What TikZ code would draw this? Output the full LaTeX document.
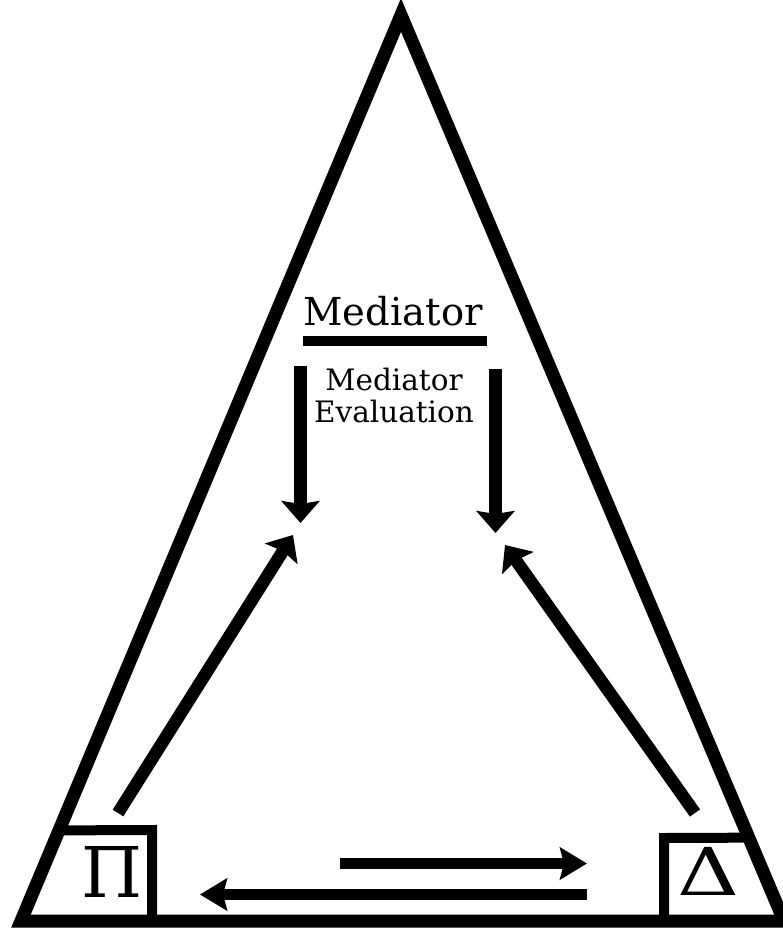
\documentclass[tikz,border=0pt]{standalone}
\usepackage{fontspec}
\setmainfont{DejaVu Serif}
\usetikzlibrary{arrows.meta,calc}

\begin{document}
\begin{tikzpicture}[x=1pt, y=-1pt, line join=miter,
    bigarrow/.style={line width=12.5pt, -{Stealth[length=22pt, width=38pt, inset=3pt]}},
    flatarrow/.style={line width=11pt, -{Stealth[length=27pt, width=32pt, inset=4pt]}}]
    % Window of the picture
    \useasboundingbox (0,0) rectangle (782,929);

    % Corners of the big triangle
    \coordinate (apex) at (401,15);
    \coordinate (lcorner) at (21,921);
    \coordinate (rcorner) at (784,921);
    \draw[line width=13pt] (apex) -- (rcorner) -- (lcorner) -- cycle;

    % Boxes in the two lower corners
    \coordinate (pitop) at ($(lcorner)!0.1!(apex)$);
    \coordinate (deltatop) at ($(rcorner)!0.092!(apex)$);
    \draw[line width=10pt] (pitop) -- (152,830) -- (152,921);
    \draw[line width=10pt] (deltatop) -- (664,838) -- (664,921);
    \node[font=\fontsize{70}{70}\selectfont] (pi) at (112,872) {Π};
    \node[font=\fontsize{66}{66}\selectfont, xscale=1.3] (delta) at (708,871) {Δ};

    % Mediator and its evaluation
    \node[anchor=base, font=\fontsize{38.5}{38.5}\selectfont] (med) at (393,325) {Mediator};
    \draw[line width=10pt] (303,341) -- (487,341);
    \node[align=center, anchor=base, font=\fontsize{29.5}{32}\selectfont] (eval) at (394,422)
        {Mediator\\Evaluation};

    % Ends of the arrows
    \coordinate (ltop) at (300.5,366);
    \coordinate (lmid) at (300.5,523);
    \coordinate (rtop) at (495.5,369);
    \coordinate (rmid) at (495.5,533);
    \coordinate (lfoot) at (118,813);
    \coordinate (lhead) at (293,535);
    \coordinate (rfoot) at (695,813);
    \coordinate (rhead) at (505,545);
    \draw[bigarrow] (ltop) -- (lmid);
    \draw[bigarrow] (rtop) -- (rmid);
    \draw[bigarrow] (lfoot) -- (lhead);
    \draw[bigarrow] (rfoot) -- (rhead);

    % Exchange between the corners
    \coordinate (upstart) at (340,863.5);
    \coordinate (upend) at (587,863.5);
    \coordinate (lowstart) at (587,894.5);
    \coordinate (lowend) at (200,894.5);
    \draw[flatarrow] (upstart) -- (upend);
    \draw[flatarrow] (lowstart) -- (lowend);
\end{tikzpicture}
\end{document}
